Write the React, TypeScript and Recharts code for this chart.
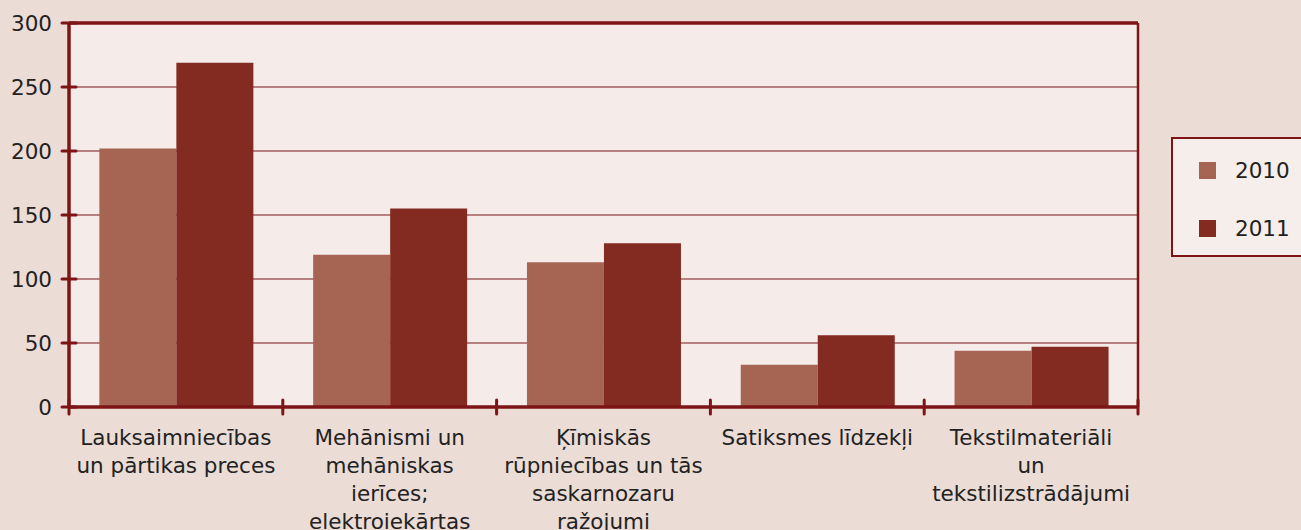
import React from 'react';
import {
  BarChart,
  Bar,
  XAxis,
  YAxis,
  CartesianGrid,
  Legend,
  ReferenceLine,
} from 'recharts';

const categories = [
  'Lauksaimniecības\nun pārtikas preces',
  'Mehānismi un\nmehāniskas\nierīces;\nelektroiekārtas',
  'Ķīmiskās\nrūpniecības un tās\nsaskarnozaru\nražojumi',
  'Satiksmes līdzekļi',
  'Tekstilmateriāli\nun\ntekstilizstrādājumi',
];
const values2010 = [202, 119, 113, 33, 44];
const values2011 = [269, 155, 128, 56, 47];
const yTicks = [0, 50, 100, 150, 200, 250, 300];
const seriesNames = ['2010', '2011'];

const data = categories.map((name, i) => ({
  name,
  y2010: values2010[i],
  y2011: values2011[i],
}));

const AXIS = '#7d1416';
const TEXT = '#222222';
const FONT = '"DejaVu Sans", Verdana, sans-serif';
const COLORS = ['#a66453', '#832a21'];

const XTick = (props: any) => {
  const { x, y, payload, index } = props;
  const half = payload.offset ?? 0;
  const lines = String(payload.value).split('\n');
  const last = index === categories.length - 1;
  return (
    <g>
      <line x1={x - half} x2={x - half} y1={y - 7} y2={y + 7} stroke={AXIS} strokeWidth={3} strokeLinecap="round" />
      {last && (
        <line x1={x + half} x2={x + half} y1={y - 7} y2={y + 7} stroke={AXIS} strokeWidth={3} strokeLinecap="round" />
      )}
      <text x={x} y={y + 38} textAnchor="middle" fill={TEXT} fontSize={21.5} fontFamily={FONT}>
        {lines.map((l, i) => (
          <tspan key={i} x={x} dy={i === 0 ? 0 : 28}>
            {l}
          </tspan>
        ))}
      </text>
    </g>
  );
};

const YTick = (props: any) => {
  const { x, y, payload } = props;
  return (
    <g>
      <line x1={x - 7} x2={x + 7} y1={y} y2={y} stroke={AXIS} strokeWidth={3} strokeLinecap="round" />
      <text x={x - 17} y={y + 8} textAnchor="end" fill={TEXT} fontSize={21.5} fontFamily={FONT}>
        {payload.value}
      </text>
    </g>
  );
};

const LegendBox = () => (
  <div
    style={{
      boxSizing: 'border-box',
      width: 140,
      height: 120,
      border: `2px solid ${AXIS}`,
      background: '#f5eeeb',
      paddingTop: 2,
      fontFamily: FONT,
      fontSize: 21.5,
      color: TEXT,
    }}
  >
    {seriesNames.map((s, i) => (
      <div key={s} style={{ display: 'flex', alignItems: 'center', height: 58 }}>
        <span style={{ width: 17, height: 17, marginLeft: 26, background: COLORS[i] }} />
        <span style={{ marginLeft: 19 }}>{s}</span>
      </div>
    ))}
  </div>
);

// right edge of the plot area, used for the plot's right border
const rightEdge = ({ offset }: any) => [offset.left + offset.width];

export default function App() {
  return (
    <div
      style={{
        position: 'absolute',
        left: 0,
        top: 0,
        width: 1301,
        height: 530,
        overflow: 'hidden',
        background: '#ebdcd6',
      }}
    >
      <BarChart
        width={1301}
        height={530}
        data={data}
        margin={{ top: 23, right: 163, left: 0, bottom: 0 }}
        barCategoryGap="14.2%"
        barGap={0}
      >
        <CartesianGrid vertical={false} stroke={AXIS} strokeWidth={1} fill="#f5ecea" />
        <CartesianGrid
          horizontal={false}
          verticalCoordinatesGenerator={rightEdge}
          stroke={AXIS}
          strokeWidth={2.5}
          strokeOpacity={1}
        />
        <XAxis
          dataKey="name"
          interval={0}
          height={123}
          tickSize={0}
          tickMargin={0}
          tickLine={false}
          axisLine={{ stroke: AXIS, strokeWidth: 3.5 }}
          tick={<XTick />}
        />
        <YAxis
          domain={[0, 300]}
          ticks={yTicks}
          interval={0}
          width={69}
          tickSize={0}
          tickMargin={0}
          tickLine={false}
          axisLine={{ stroke: AXIS, strokeWidth: 3.5 }}
          tick={<YTick />}
        />
        <ReferenceLine y={300} stroke={AXIS} strokeWidth={3.5} />
        <Legend
          layout="horizontal"
          verticalAlign="middle"
          align="center"
          content={<LegendBox />}
          wrapperStyle={{ left: 1171, top: 137, width: 140, height: 120 }}
        />
        <Bar dataKey="y2010" name={seriesNames[0]} fill={COLORS[0]} isAnimationActive={false} />
        <Bar dataKey="y2011" name={seriesNames[1]} fill={COLORS[1]} isAnimationActive={false} />
      </BarChart>
    </div>
  );
}
